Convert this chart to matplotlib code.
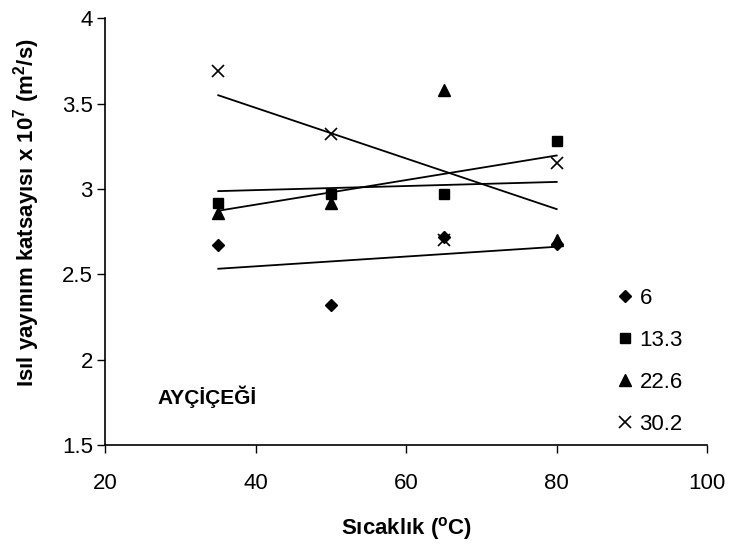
import numpy as np
import matplotlib
matplotlib.use("Agg")
import matplotlib.pyplot as plt

plt.rcParams['font.family'] = ['Liberation Sans', 'DejaVu Sans']
plt.rcParams['mathtext.fontset'] = 'custom'
plt.rcParams['mathtext.rm'] = 'Liberation Sans'
plt.rcParams['mathtext.bf'] = 'Liberation Sans:bold'

temps = [35, 50, 65, 80]
s6 = [2.67, 2.32, 2.72, 2.68]
s13 = [2.92, 2.97, 2.97, 3.28]
s22 = [2.86, 2.92, 3.58, 2.70]
s30 = [3.69, 3.32, 2.70, 3.155]
labels = ['6', '13.3', '22.6', '30.2']
xticks = [20, 40, 60, 80, 100]
yticks = [1.5, 2, 2.5, 3, 3.5, 4]

fig = plt.figure(figsize=(7.31, 5.45), dpi=100)
ax = fig.add_axes([0.1443, 0.1835, 0.823, 0.7826])

series = [s6, s13, s22, s30]
markers = ['D', 's', '^', 'x']
msizes = [6.5, 7.5, 9, 9]
handles = []
x = np.array(temps, dtype=float)
for ys, m, ms, lab in zip(series, markers, msizes, labels):
    kw = dict(color='black', linestyle='none', marker=m, markersize=ms)
    if m == 'x':
        kw['markeredgewidth'] = 1.2
    h, = ax.plot(temps, ys, label=lab, **kw)
    handles.append(h)
    p = np.polyfit(x, np.array(ys), 1)
    xx = np.array([x.min(), x.max()])
    ax.plot(xx, np.polyval(p, xx), color='black', linewidth=1.3, zorder=1)

ax.set_xlim(20, 100)
ax.set_ylim(1.5, 4)
ax.set_xticks(xticks)
ax.set_xticklabels([str(t) for t in xticks])
ax.set_yticks(yticks)
ax.set_yticklabels(['1.5', '2', '2.5', '3', '3.5', '4'])
for s in ['top', 'right']:
    ax.spines[s].set_visible(False)
for s in ['left', 'bottom']:
    ax.spines[s].set_linewidth(1.2)
ax.tick_params(axis='both', direction='out', length=6, width=1, labelsize=16, colors='black')
ax.tick_params(axis='x', pad=14)
ax.tick_params(axis='y', pad=3)

ax.set_xlabel(r'Sıcaklık ($^{\mathbf{o}}$C)', fontsize=16, fontweight='bold')
ax.set_ylabel(r'Isıl yayınım katsayısı x 10$^{\mathbf{7}}$ (m$^{\mathbf{2}}$/s)', fontsize=16,
              fontweight='bold')
ax.xaxis.set_label_coords(0.5, -0.163)
ax.yaxis.set_label_coords(-0.106, 0.545)

ax.text(0.087, 0.1125, 'AYÇİÇEĞİ', transform=ax.transAxes, fontsize=15, fontweight='bold',
        va='center', ha='left')

leg = ax.legend(handles=handles, loc='upper left', bbox_to_anchor=(0.845, 0.369), frameon=False,
                fontsize=16, handlelength=1.0, handletextpad=0.15, labelspacing=0.95,
                borderaxespad=0, borderpad=0)

fig.savefig('out.png', dpi=100)
